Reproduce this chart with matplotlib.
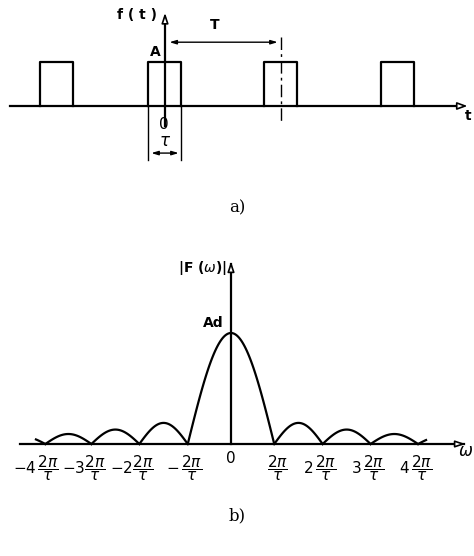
import numpy as np
import matplotlib
matplotlib.use('Agg')
import matplotlib.pyplot as plt

# a) pulse train, t in units of tau
tau = 1.0
T = 3.5
A = 1.0
pulse_c = [-3.3, 0.0, 3.5, 7.05]

# b) |F(w)|, w in units of 2*pi/tau
w_zeros = [-4.95, -3.95, -2.97, -1.95, -0.92, 0.92, 1.95, 2.97, 3.98, 4.98]
lobe_peaks = [0.07, 0.09, 0.13, 0.19, 1.0, 0.19, 0.13, 0.09, 0.07]
tick_pos = [-3.95, -2.97, -1.95, -0.92, 0.0, 0.92, 1.95, 2.97, 3.98]
tick_lab = [r'$-4\,\dfrac{2\pi}{\tau}$', r'$-3\dfrac{2\pi}{\tau}$', r'$-2\dfrac{2\pi}{\tau}$',
            r'$-\,\dfrac{2\pi}{\tau}$', '0', r'$\dfrac{2\pi}{\tau}$', r'$2\,\dfrac{2\pi}{\tau}$',
            r'$3\,\dfrac{2\pi}{\tau}$', r'$4\,\dfrac{2\pi}{\tau}$']

W, H = 474, 556
fig = plt.figure(figsize=(W / 100, H / 100), dpi=100)
lw = 1.6
lab = dict(fontsize=10, fontweight='bold', family='DejaVu Sans')

# ---------- top panel ----------
ax1 = fig.add_axes([0, 1 - 220 / H, 1, 220 / H])
ax1.set_xlim(-165 / 33, (W - 165) / 33)
ax1.set_ylim(-114 / 44, 106 / 44)
ax1.axis('off')

for c in pulse_c:
    ax1.plot([c - tau / 2, c - tau / 2, c + tau / 2, c + tau / 2], [0, A, A, 0], color='black', lw=lw)
ax1.plot([-4.7, 9.0], [0, 0], color='black', lw=lw)
ax1.annotate('', xy=(9.25, 0), xytext=(8.9, 0),
             arrowprops=dict(arrowstyle='-|>,head_length=0.6,head_width=0.22', fc='white', ec='black', lw=1.2))
ax1.plot([0, 0], [-0.45, 2.0], color='black', lw=lw)
ax1.annotate('', xy=(0, 2.18), xytext=(0, 1.9),
             arrowprops=dict(arrowstyle='-|>,head_length=0.6,head_width=0.2', fc='white', ec='black', lw=1.2))
ax1.text(-0.25, 2.07, 'f ( t )', ha='right', va='center', **lab)
ax1.text(-0.3, 1.22, 'A', ha='center', va='center', **lab)
ax1.text(-0.05, -0.43, '0', ha='center', va='center', fontsize=11, family='DejaVu Sans')
ax1.text(0.0, -0.8, r'$\tau$', ha='center', va='center', fontsize=12)
ax1.text(T / 2 - 0.25, 1.85, 'T', ha='center', va='center', **lab)
ax1.text(9.2, -0.22, 't', ha='center', va='center', **lab)

# T dimension
ax1.annotate('', xy=(0.05, 1.45), xytext=(T, 1.45),
             arrowprops=dict(arrowstyle='<|-|>,head_length=0.4,head_width=0.12', fc='black', ec='black', lw=1.0))
ax1.plot([T, T], [1.56, -0.36], color='black', lw=1.0, linestyle=(0, (9, 3, 2, 3)))
# tau dimension
ax1.plot([-tau / 2, -tau / 2], [0, -1.23], color='black', lw=1.0)
ax1.plot([tau / 2, tau / 2], [0, -1.23], color='black', lw=1.0)
ax1.annotate('', xy=(-tau / 2, -1.07), xytext=(tau / 2, -1.07),
             arrowprops=dict(arrowstyle='<|-|>,head_length=0.4,head_width=0.12', fc='black', ec='black', lw=1.0))

fig.text(237 / W, 1 - 208 / H, 'a)', ha='center', va='center', fontsize=12, family='DejaVu Serif')

# ---------- bottom panel ----------
ax2 = fig.add_axes([0, 0, 1, 331 / H])
ax2.set_xlim(-231 / 47, (W - 231) / 47)
ax2.set_ylim(-112 / 111, 219 / 111)
ax2.axis('off')

for i, h in enumerate(lobe_peaks):
    a, b = w_zeros[i], w_zeros[i + 1]
    a0 = -4.15 if i == 0 else a
    b0 = 4.15 if i == len(lobe_peaks) - 1 else b
    w = np.linspace(a0, b0, 80)
    ax2.plot(w, h * np.sin(np.pi * (w - a) / (b - a)), color='black', lw=lw)

ax2.plot([-4.5, 4.95], [0, 0], color='black', lw=lw)
ax2.annotate('', xy=(5.05, 0), xytext=(4.7, 0),
             arrowprops=dict(arrowstyle='-|>,head_length=0.6,head_width=0.2', fc='white', ec='black', lw=1.2))
ax2.plot([0, 0], [0, 1.62], color='black', lw=lw)
ax2.annotate('', xy=(0, 1.67), xytext=(0, 1.45),
             arrowprops=dict(arrowstyle='-|>,head_length=0.6,head_width=0.2', fc='white', ec='black', lw=1.2))
ax2.text(-0.08, 1.59, r'|F ($\omega$)|', ha='right', va='center', **lab)
ax2.text(-0.15, 1.09, 'Ad', ha='right', va='center', **lab)
ax2.text(5.0, -0.06, r'$\omega$', ha='center', va='center', fontsize=12)

for p, s in zip(tick_pos, tick_lab):
    if s == '0':
        ax2.text(p, -0.13, s, ha='center', va='center', fontsize=11)
    else:
        ax2.text(p + 0.3, -0.22, s, ha='right', va='center', fontsize=11)

fig.text(237 / W, 1 - 516 / H, 'b)', ha='center', va='center', fontsize=12, family='DejaVu Serif')

fig.savefig('out.png', dpi=100, facecolor='white')
